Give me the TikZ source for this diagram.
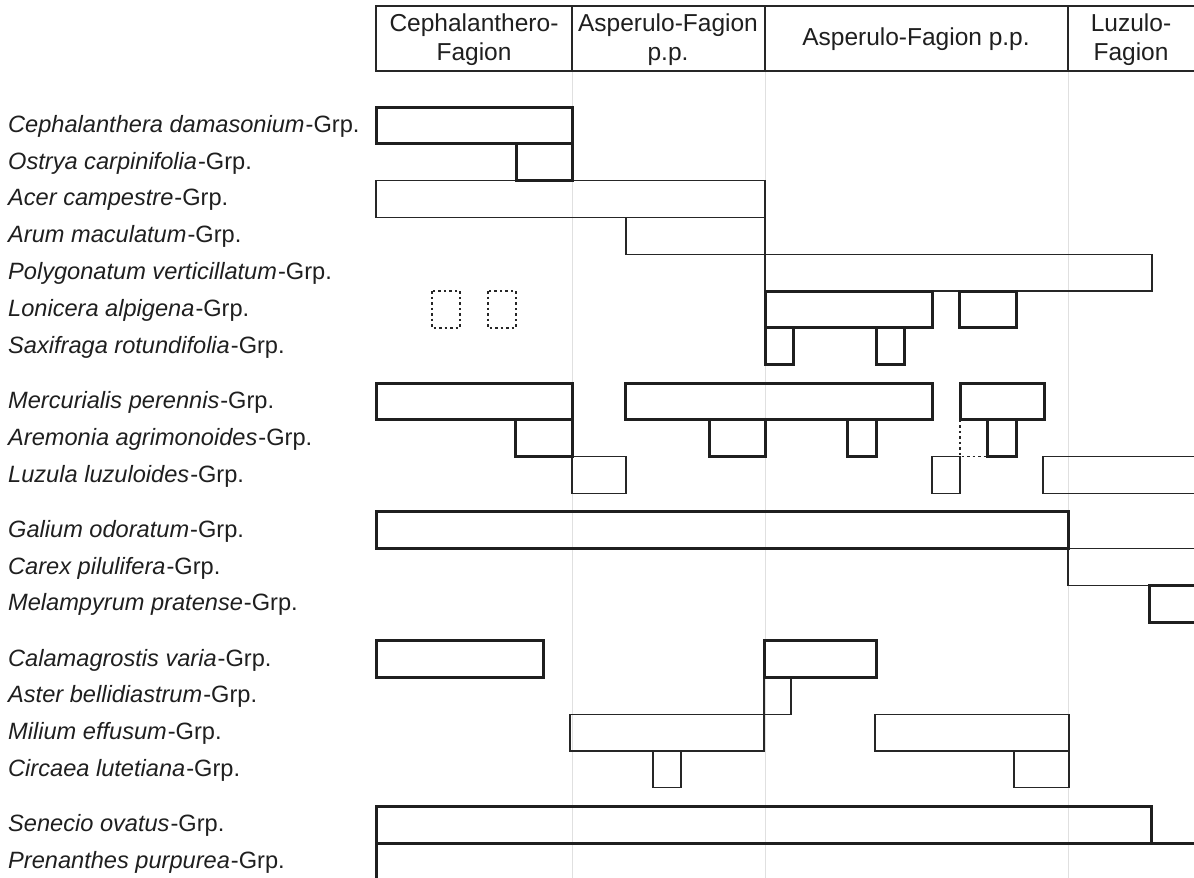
\documentclass[tikz,border=0pt]{standalone}
\usepackage{fontspec}
\setmainfont{Liberation Sans}
\usepackage{tikz}
\def\grp#1{\textit{#1}\kern1pt-Grp.}

\begin{document}
\begin{tikzpicture}[x=1pt, y=-36.8pt,
		strong/.style={line width=3pt, color=black!88},
		weak/.style={line width=1.3pt, color=black!85},
		gap/.style={line width=1.5pt, color=black!85, dash pattern=on 2.5pt off 3pt},
		grid/.style={line width=0.8pt, color=black!12},
		species/.style={anchor=base west, inner sep=0pt, font=\fontsize{23.6}{28}\selectfont, text=black!88},
		unit/.style={align=center, inner sep=0pt, font=\fontsize{24.5}{29}\selectfont, text=black!88}]
			%%%%% START %%%%%
			
			\clip (0, -2.9076) rectangle (1194, 20.951);
			\fill[white] (0, -2.9076) rectangle (1194, 20.951);
			
			\draw[grid] (572, -0.98) -- (572, 21);
			\draw[grid] (765, -0.98) -- (765, 21);
			\draw[grid] (1068, -0.98) -- (1068, 21);
			
			\draw[line width=1.5pt, color=black!85] (376, -2.745) rectangle (1200, -0.978);
			\draw[line width=1.5pt, color=black!85] (572, -2.745) -- (572, -0.978);
			\draw[line width=1.5pt, color=black!85] (765, -2.745) -- (765, -0.978);
			\draw[line width=1.5pt, color=black!85] (1068, -2.745) -- (1068, -0.978);
			\node[unit] (cf) at (474, -1.834) {Cephalanthero-\\Fagion};
			\node[unit] (af1) at (668, -1.834) {Asperulo-Fagion\\p.p.};
			\node[unit] (af2) at (916, -1.834) {Asperulo-Fagion p.p.};
			\node[unit] (lf) at (1131, -1.834) {Luzulo-\\Fagion};
			
			\node[species] (cda) at (8, 0.69) {\grp{Cephalanthera damasonium}};
			\node[species] (oca) at (8, 1.69) {\grp{Ostrya carpinifolia}};
			\node[species] (aca) at (8, 2.69) {\grp{Acer campestre}};
			\node[species] (ama) at (8, 3.69) {\grp{Arum maculatum}};
			\node[species] (pve) at (8, 4.69) {\grp{Polygonatum verticillatum}};
			\node[species] (lal) at (8, 5.69) {\grp{Lonicera alpigena}};
			\node[species] (sro) at (8, 6.69) {\grp{Saxifraga rotundifolia}};
			
			\node[species] (mpe) at (8, 8.19) {\grp{Mercurialis perennis}};
			\node[species] (aag) at (8, 9.19) {\grp{Aremonia agrimonoides}};
			\node[species] (llu) at (8, 10.19) {\grp{Luzula luzuloides}};
			
			\node[species] (god) at (8, 11.69) {\grp{Galium odoratum}};
			\node[species] (cpi) at (8, 12.69) {\grp{Carex pilulifera}};
			\node[species] (mpr) at (8, 13.69) {\grp{Melampyrum pratense}};
			
			\node[species] (cva) at (8, 15.19) {\grp{Calamagrostis varia}};
			\node[species] (abe) at (8, 16.19) {\grp{Aster bellidiastrum}};
			\node[species] (mef) at (8, 17.19) {\grp{Milium effusum}};
			\node[species] (clu) at (8, 18.19) {\grp{Circaea lutetiana}};
			
			\node[species] (sov) at (8, 19.69) {\grp{Senecio ovatus}};
			\node[species] (ppu) at (8, 20.69) {\grp{Prenanthes purpurea}};
			
			\draw[weak] (376, 2) rectangle (765, 3);
			\draw[weak] (626, 3) rectangle (765, 4);
			\draw[weak] (765, 4) rectangle (1152, 5);
			\draw[strong] (376, 0) rectangle (572, 1);
			\draw[strong] (516, 1) rectangle (572, 2);
			\draw[strong] (765, 5) rectangle (932, 6);
			\draw[strong] (959, 5) rectangle (1016, 6);
			\draw[strong] (765, 6) rectangle (793, 7);
			\draw[strong] (876, 6) rectangle (904, 7);
			\draw[gap] (432, 5) rectangle (460, 6);
			\draw[gap] (488, 5) rectangle (516, 6);
			
			\draw[weak] (572, 9.5) rectangle (626, 10.5);
			\draw[weak] (932, 9.5) rectangle (960, 10.5);
			\draw[weak] (1043, 9.5) rectangle (1200, 10.5);
			\draw[strong] (376, 7.5) rectangle (572, 8.5);
			\draw[strong] (625, 7.5) rectangle (932, 8.5);
			\draw[strong] (960, 7.5) rectangle (1044, 8.5);
			\draw[strong] (515, 8.5) rectangle (572, 9.5);
			\draw[strong] (709, 8.5) rectangle (765, 9.5);
			\draw[strong] (847, 8.5) rectangle (876, 9.5);
			\draw[strong] (987, 8.5) rectangle (1016, 9.5);
			\draw[gap] (960, 8.5) -- (960, 9.5) -- (987, 9.5);
			
			\draw[weak] (1068, 12) rectangle (1200, 13);
			\draw[strong] (376, 11) rectangle (1068, 12);
			\draw[strong] (1149, 13) rectangle (1200, 14);
			
			\draw[weak] (764, 15.5) rectangle (791, 16.5);
			\draw[weak] (570, 16.5) rectangle (764, 17.5);
			\draw[weak] (875, 16.5) rectangle (1069, 17.5);
			\draw[weak] (653, 17.5) rectangle (681, 18.5);
			\draw[weak] (1014, 17.5) rectangle (1069, 18.5);
			\draw[strong] (376, 14.5) rectangle (543, 15.5);
			\draw[strong] (764, 14.5) rectangle (876, 15.5);
			
			\draw[strong] (376, 20) rectangle (1200, 22);
			\draw[strong] (376, 19) rectangle (1151, 20);
			
			%%%%% END %%%%%
\end{tikzpicture}
\end{document}
